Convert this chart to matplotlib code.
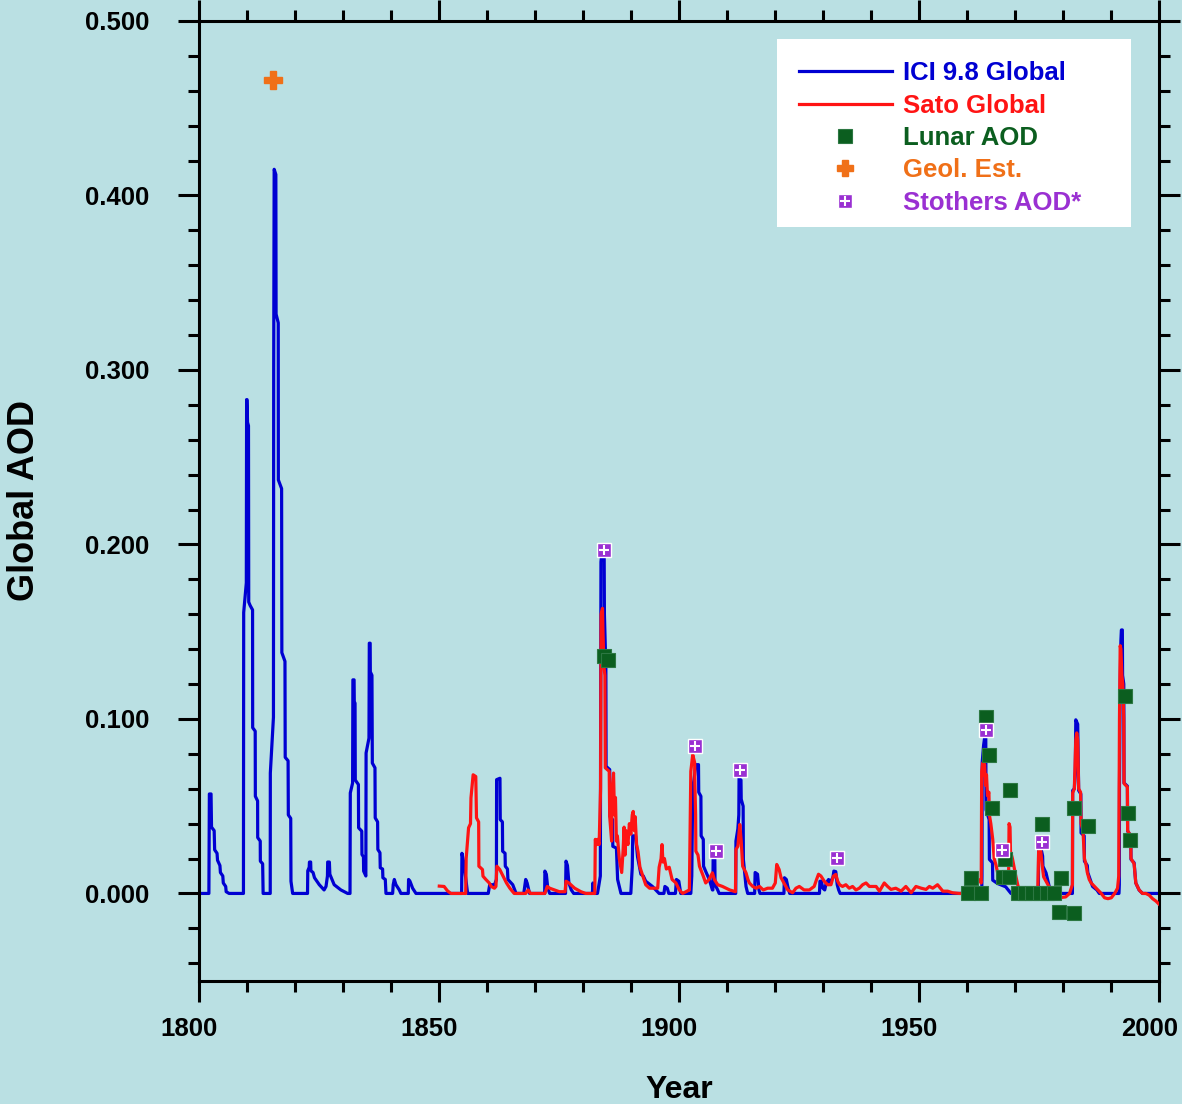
import matplotlib
matplotlib.use('Agg')
import matplotlib.pyplot as plt
from matplotlib.lines import Line2D
from matplotlib.patches import Rectangle
from matplotlib.ticker import MultipleLocator, FormatStrFormatter
from matplotlib.transforms import ScaledTranslation

plt.rcParams['font.family'] = ['Liberation Sans', 'DejaVu Sans']
plt.rcParams['font.weight'] = 'bold'

# ICI 9.8 global aerosol optical depth (year, AOD)
ici_year = [1800.0, 1802.0, 1802.1, 1802.45, 1802.55, 1803.1, 1803.2, 1803.7, 1803.8, 1804.3,
            1804.4, 1804.9, 1805.0, 1805.5, 1805.6, 1806.2,
            1809.2, 1809.25, 1809.8, 1809.86, 1809.95, 1810.05, 1810.25, 1810.3, 1810.6, 1811.1,
            1811.12, 1811.65, 1811.68, 1812.15, 1812.17, 1812.7, 1812.72, 1813.2, 1813.3,
            1814.78, 1814.8, 1815.45, 1815.5, 1815.6, 1815.95, 1816.0, 1816.45, 1816.47, 1817.15,
            1817.2, 1817.85, 1817.9, 1818.5, 1818.55, 1819.05, 1819.1, 1819.45,
            1822.55, 1822.6, 1822.9, 1822.95, 1823.2, 1823.25, 1823.7, 1824.0, 1825.0, 1826.0,
            1826.4, 1826.7, 1826.75, 1827.1, 1827.2, 1828.1, 1829.5, 1830.9,
            1831.4, 1831.46, 1831.94, 1832.0, 1832.25, 1832.29, 1832.45, 1832.5, 1833.15, 1833.19,
            1833.85, 1833.89, 1834.2, 1834.24, 1834.7, 1834.75, 1835.35, 1835.42, 1835.6, 1835.63,
            1835.97, 1836.05, 1836.6, 1836.65, 1837.15, 1837.2, 1837.64, 1837.7, 1838.19, 1838.25,
            1838.75, 1838.89, 1840.28, 1840.4, 1840.63, 1840.97, 1841.67, 1842.0,
            1843.54, 1843.6, 1843.89, 1844.44, 1845.14,
            1854.65, 1854.72, 1855.1, 1855.9,
            1860.2, 1860.5, 1861.5, 1861.9, 1861.94, 1862.64, 1862.7, 1863.15, 1863.2, 1863.7,
            1863.75, 1864.2, 1864.3, 1865.3, 1866.0,
            1867.6, 1868.0, 1868.3, 1868.8, 1871.95, 1872.0, 1872.3, 1872.6, 1873.0,
            1876.3, 1876.4, 1876.7, 1877.0, 1877.5, 1878.0, 1881.9, 1882.0, 1882.2,
            1882.95, 1883.2, 1883.55, 1883.68, 1883.75, 1884.35, 1884.4, 1884.7, 1884.75, 1885.5,
            1885.55, 1886.1, 1886.15, 1886.9, 1887.15, 1887.85,
            1889.9, 1890.2, 1890.3, 1890.9, 1891.3, 1892.0, 1892.5, 1893.0, 1894.4, 1895.8,
            1896.8, 1897.0, 1897.5, 1897.8, 1899.2, 1899.4, 1899.9, 1900.3,
            1902.4, 1902.6, 1902.8, 1903.2, 1903.45, 1904.0, 1904.05, 1904.5, 1904.55, 1905.0,
            1905.05, 1905.6, 1906.25, 1906.9, 1907.0, 1907.05, 1907.4, 1907.45, 1908.0, 1908.3,
            1911.75, 1911.8, 1912.2, 1912.4, 1912.45, 1912.85, 1912.9, 1913.3, 1913.35, 1913.9,
            1914.25, 1915.7, 1915.8, 1916.3, 1916.6, 1916.8, 1921.8, 1921.9, 1922.3, 1922.6, 1923.0,
            1929.2, 1929.3, 1929.6, 1929.9, 1930.3, 1930.6, 1931.1, 1931.3, 1932.0, 1932.2,
            1932.6, 1932.9, 1933.2, 1933.5,
            1963.0, 1963.06, 1963.1, 1963.4, 1963.6, 1963.85, 1963.9, 1964.55, 1964.6, 1965.25,
            1965.3, 1966.3, 1968.0, 1969.1,
            1974.8, 1974.86, 1975.4, 1975.69, 1975.75, 1976.4, 1977.08, 1977.78,
            1981.9, 1981.95, 1982.3, 1982.5, 1982.6, 1983.0, 1983.2, 1983.65, 1983.7, 1984.35,
            1984.4, 1985.0, 1985.1, 1986.1, 1987.0, 1987.5,
            1991.6, 1991.67, 1991.7, 1991.85, 1992.0, 1992.1, 1992.3, 1992.35, 1992.6, 1992.65,
            1993.35, 1993.4, 1994.05, 1994.1, 1994.75, 1995.1, 1995.8, 1996.5, 2000.0]
ici_aod = [0, 0, 0.057, 0.057, 0.038, 0.036, 0.025, 0.023, 0.019, 0.016,
           0.012, 0.010, 0.006, 0.004, 0.001, 0,
           0, 0.161, 0.178, 0.283, 0.283, 0.270, 0.268, 0.167, 0.165, 0.1625,
           0.095, 0.093, 0.0557, 0.053, 0.032, 0.030, 0.0185, 0.017, 0,
           0, 0.069, 0.101, 0.300, 0.415, 0.412, 0.332, 0.327, 0.237, 0.232,
           0.138, 0.133, 0.078, 0.076, 0.045, 0.043, 0.007, 0,
           0, 0.013, 0.015, 0.018, 0.018, 0.013, 0.012, 0.009, 0.005, 0.002,
           0.004, 0.010, 0.018, 0.018, 0.011, 0.005, 0.002, 0,
           0, 0.0576, 0.0633, 0.1224, 0.1224, 0.110, 0.109, 0.065, 0.0624, 0.0376,
           0.0357, 0.0223, 0.021, 0.0128, 0.010, 0.0805, 0.089, 0.1434, 0.1434, 0.127,
           0.125, 0.0747, 0.072, 0.0433, 0.041, 0.0252, 0.0233, 0.0147, 0.014, 0.009,
           0.008, 0, 0, 0.005, 0.008, 0.005, 0.002, 0,
           0, 0.008, 0.007, 0.003, 0,
           0, 0.023, 0.0177, 0,
           0, 0.005, 0.005, 0.008, 0.0652, 0.066, 0.0423, 0.041, 0.0242, 0.023,
           0.0156, 0.014, 0.008, 0.005, 0,
           0, 0.008, 0.006, 0, 0, 0.0128, 0.011, 0.003, 0,
           0, 0.0185, 0.016, 0.006, 0.002, 0, 0, 0.006, 0,
           0, 0.004, 0.010, 0.190, 0.192, 0.192, 0.160, 0.130, 0.0728, 0.071,
           0.0442, 0.0423, 0.027, 0.026, 0.008, 0,
           0, 0.015, 0.033, 0.033, 0.021, 0.011, 0.010, 0.007, 0.004, 0,
           0, 0.004, 0.003, 0, 0, 0.008, 0.007, 0,
           0, 0.010, 0.060, 0.068, 0.0738, 0.0738, 0.058, 0.0557, 0.033, 0.031,
           0.0156, 0.012, 0.008, 0.002, 0.002, 0.020, 0.020, 0.005, 0.002, 0,
           0, 0.030, 0.037, 0.045, 0.066, 0.065, 0.054, 0.050, 0.0195, 0.004,
           0, 0, 0.012, 0.011, 0.002, 0, 0, 0.009, 0.008, 0.004, 0,
           0, 0.007, 0.007, 0.003, 0.002, 0.006, 0.008, 0.006, 0.009, 0.0128,
           0.0125, 0.005, 0.002, 0,
           0, 0.010, 0.075, 0.085, 0.089, 0.089, 0.048, 0.0423, 0.0195, 0.0176,
           0.0076, 0.0057, 0.0038, 0,
           0, 0.0252, 0.0252, 0.0214, 0.0156, 0.0118, 0.0038, 0,
           0, 0.059, 0.060, 0.070, 0.0995, 0.097, 0.059, 0.057, 0.0347, 0.033,
           0.0185, 0.016, 0.012, 0.004, 0.002, 0,
           0, 0.005, 0.060, 0.120, 0.145, 0.151, 0.151, 0.125, 0.120, 0.0633,
           0.0615, 0.0357, 0.033, 0.0195, 0.0176, 0.006, 0.0019, 0, 0]

# Sato global AOD (year, AOD)
sato_year = [1850.0, 1851.0, 1851.7, 1852.4, 1855.5, 1855.6, 1856.1, 1856.5, 1856.6, 1857.05,
             1857.6, 1857.75, 1858.2, 1858.25, 1859.0, 1859.1, 1859.7, 1860.4, 1860.8, 1861.5,
             1861.8, 1862.0, 1862.6, 1863.3, 1864.0, 1864.7, 1865.6, 1868.0, 1868.5, 1869.0,
             1872.0, 1872.5, 1873.0, 1875.0, 1876.2, 1876.4, 1877.0, 1878.2, 1879.5, 1880.5,
             1882.4, 1882.5, 1882.8, 1883.0, 1883.3, 1883.6, 1883.7, 1884.0, 1884.1, 1884.3,
             1884.5, 1884.58, 1885.4, 1885.5, 1885.9, 1886.0, 1886.3, 1886.5, 1886.7, 1886.9,
             1887.1, 1887.5, 1888.0, 1888.3, 1888.5, 1888.7, 1888.9, 1889.3, 1889.6, 1889.9,
             1890.2, 1890.4, 1890.6, 1890.8, 1891.1, 1891.4, 1891.8, 1892.4, 1893.0, 1893.8,
             1895.5, 1895.8, 1896.2, 1896.4, 1896.6, 1896.9, 1897.3, 1897.9, 1898.5, 1899.3,
             1900.0, 1900.7, 1902.1, 1902.4, 1902.8, 1903.2, 1903.25, 1903.4, 1903.45, 1903.9,
             1904.2, 1905.0, 1905.5, 1906.2, 1906.9, 1907.3, 1908.0, 1909.0, 1910.5, 1911.7,
             1911.8, 1912.2, 1912.6, 1912.9, 1913.2, 1913.9, 1914.3, 1914.6, 1915.3, 1916.0,
             1916.7, 1917.5, 1918.4, 1919.4, 1920.0, 1920.3, 1920.8, 1921.2, 1921.6, 1922.6,
             1923.6, 1924.3, 1925.0, 1926.0, 1927.1, 1928.1, 1928.6, 1929.0, 1929.5, 1930.2,
             1930.9, 1931.6, 1932.1, 1932.6, 1933.0, 1933.4, 1934.0, 1934.7, 1935.4, 1936.1,
             1936.8, 1937.5, 1938.2, 1938.9, 1939.6, 1940.3, 1941.0, 1941.7, 1942.7, 1943.4,
             1944.1, 1945.1, 1946.2, 1947.2, 1948.3, 1949.3, 1950.4, 1951.4, 1952.1, 1952.8,
             1953.8, 1954.9, 1955.9, 1956.9, 1958.3, 1961.5, 1961.9, 1962.3, 1962.9, 1963.0,
             1963.2, 1963.4, 1963.6, 1963.8, 1964.0, 1964.2, 1964.5, 1964.6, 1964.9, 1965.3,
             1965.6, 1966.0, 1966.3, 1967.0, 1968.0, 1968.6, 1968.7, 1968.9, 1969.0, 1969.4,
             1970.1, 1970.5, 1970.8, 1971.5, 1974.5, 1974.7, 1974.86, 1975.3, 1975.6, 1975.9,
             1976.3, 1977.0, 1977.8, 1979.0, 1980.5, 1981.3, 1981.9, 1981.95, 1982.3, 1982.6,
             1982.8, 1983.0, 1983.2, 1983.6, 1983.7, 1984.1, 1984.4, 1984.7, 1985.0, 1985.4,
             1985.8, 1986.5, 1987.2, 1987.9, 1988.6, 1989.3, 1990.0, 1990.7, 1991.3, 1991.55,
             1991.7, 1991.85, 1992.0, 1992.2, 1992.4, 1992.6, 1992.65, 1993.35, 1993.4, 1994.05,
             1994.1, 1994.75, 1995.1, 1995.8, 1996.5, 1997.2, 1997.9, 1998.6, 1999.3, 2000.0]
sato_aod = [0.0042, 0.004, 0.0015, 0, 0, 0.020, 0.0376, 0.040, 0.0547, 0.068,
            0.067, 0.0433, 0.041, 0.0156, 0.0137, 0.0099, 0.008, 0.006, 0.004, 0.003,
            0.004, 0.0156, 0.0137, 0.0099, 0.006, 0.003, 0, 0, 0.002, 0,
            0, 0.004, 0.003, 0.001, 0.001, 0.007, 0.006, 0.003, 0.001, 0,
            0, 0.031, 0.028, 0.031, 0.028, 0.060, 0.160, 0.1634, 0.150, 0.130,
            0.125, 0.072, 0.070, 0.044, 0.030, 0.060, 0.069, 0.045, 0.055, 0.030,
            0.033, 0.020, 0.012, 0.025, 0.038, 0.022, 0.036, 0.028, 0.040, 0.034,
            0.045, 0.047, 0.036, 0.044, 0.028, 0.024, 0.015, 0.010, 0.005, 0.003,
            0.003, 0.015, 0.020, 0.028, 0.018, 0.020, 0.014, 0.015, 0.008, 0.006,
            0.002, 0, 0.002, 0.070, 0.0795, 0.075, 0.063, 0.045, 0.0242, 0.022,
            0.0156, 0.0099, 0.006, 0.008, 0.0118, 0.008, 0.005, 0.004, 0.002, 0.001,
            0.0252, 0.027, 0.0395, 0.030, 0.0156, 0.0118, 0.008, 0.006, 0.004, 0.003,
            0.004, 0.002, 0.003, 0.003, 0.006, 0.0166, 0.0137, 0.009, 0.007, 0.002,
            0.0004, 0.003, 0.004, 0.002, 0.002, 0.004, 0.008, 0.011, 0.010, 0.007,
            0.005, 0.005, 0.0099, 0.0109, 0.007, 0.005, 0.004, 0.005, 0.003, 0.004,
            0.002, 0.003, 0.005, 0.006, 0.004, 0.004, 0.004, 0.0013, 0.006, 0.004,
            0.0023, 0.003, 0.0013, 0.004, 0.0004, 0.004, 0.003, 0.0023, 0.004, 0.003,
            0.005, 0.0013, 0.0013, 0.0004, 0, 0, 0.005, 0.008, 0.006, 0.070,
            0.0748, 0.068, 0.074, 0.062, 0.068, 0.056, 0.058, 0.045, 0.040, 0.031,
            0.020, 0.016, 0.012, 0.008, 0.007, 0.008, 0.040, 0.038, 0.024, 0.020,
            0.010, 0.005, 0.002, 0, 0, 0.004, 0.0242, 0.0242, 0.016, 0.0095,
            0.0075, 0.004, 0, -0.0025, -0.002, 0, 0.005, 0.0576, 0.060, 0.088,
            0.092, 0.088, 0.060, 0.058, 0.040, 0.036, 0.020, 0.017, 0.012, 0.008,
            0.006, 0.004, 0.002, 0, -0.0025, -0.003, -0.0025, 0, 0.003, 0.010,
            0.100, 0.142, 0.140, 0.125, 0.120, 0.100, 0.063, 0.061, 0.036, 0.033,
            0.020, 0.017, 0.006, 0.002, 0, 0, -0.001, -0.003, -0.0044, -0.0063]

# Lunar eclipse derived AOD
lunar_year = [1884.4, 1885.07, 1960.07, 1960.76, 1962.85, 1963.89, 1964.44, 1965.07, 1967.5,
              1968.6, 1967.9, 1968.96, 1970.5, 1972.0, 1973.5, 1975.2, 1976.6, 1978.0,
              1975.56, 1979.0, 1979.5, 1982.29, 1982.29, 1985.07, 1992.85, 1993.4, 1993.96]
lunar_aod = [0.136, 0.134, 0.0, 0.009, 0.0, 0.101, 0.0795, 0.049, 0.0095,
             0.0095, 0.0195, 0.0595, 0.0, 0.0, 0.0, 0.0, 0.0, 0.0,
             0.040, -0.0105, 0.009, -0.011, 0.049, 0.0385, 0.1133, 0.046, 0.0305]

# Geological estimate (Tambora)
geol_year = [1815.45]
geol_aod = [0.466]

# Stothers AOD*
stothers_year = [1884.38, 1903.2, 1907.64, 1912.7, 1932.8, 1963.89, 1967.15, 1975.48]
stothers_aod = [0.197, 0.0843, 0.0245, 0.0706, 0.0202, 0.0934, 0.0248, 0.0294]

bg = '#bae0e3'
c_ici = '#0000d2'
c_sato = '#ff1414'
c_lunar = '#0b5e1f'
c_geol = '#f07018'
c_stoth = '#9a30d2'

fig = plt.figure(figsize=(11.82, 11.04), dpi=100)
fig.patch.set_facecolor(bg)
ax = fig.add_axes([0.1686, 0.1117, 0.8122, 0.8693])
ax.set_facecolor(bg)

ax.plot(ici_year, ici_aod, color=c_ici, lw=2.3, zorder=2)
ax.plot(sato_year, sato_aod, color=c_sato, lw=2.3, zorder=3)
ax.plot(lunar_year, lunar_aod, ls='none', marker='s', ms=10.5,
        mfc=c_lunar, mec='#2c7742', mew=0.8, zorder=4)
ax.plot(geol_year, geol_aod, ls='none', marker='P', ms=12.5,
        mfc=c_geol, mec=c_geol, zorder=5)
ax.plot(stothers_year, stothers_aod, ls='none', marker='s', ms=10,
        mfc=c_stoth, mec='white', mew=1.0, zorder=5)
ax.plot(stothers_year, stothers_aod, ls='none', marker='+', ms=7.5,
        mec='white', mew=1.5, zorder=6)

ax.set_xlim(1800, 2000)
ax.set_ylim(-0.05, 0.5)
ax.xaxis.set_major_locator(MultipleLocator(50))
ax.xaxis.set_minor_locator(MultipleLocator(10))
ax.yaxis.set_major_locator(MultipleLocator(0.1))
ax.yaxis.set_minor_locator(MultipleLocator(0.02))
ax.yaxis.set_major_formatter(FormatStrFormatter('%.3f'))

for s in ax.spines.values():
    s.set_linewidth(2.2)
ax.tick_params(which='both', direction='out', top=True, right=True, width=2.2,
               labelsize=18.5)
ax.tick_params(which='major', length=15)
ax.tick_params(which='minor', length=8)
ax.tick_params(axis='y', which='major', pad=21)
ax.tick_params(axis='x', which='major', pad=11)

# year labels sit a little left of their ticks
shift = ScaledTranslation(-10 / 100, 0, fig.dpi_scale_trans)
for lab in ax.get_xticklabels():
    lab.set_transform(lab.get_transform() + shift)

ax.set_xlabel('Year', fontsize=23, fontweight='bold', va='center')
ax.xaxis.set_label_coords(0.5, -0.114)
ax.set_ylabel('Global AOD', fontsize=26, fontweight='bold', va='center')
ax.yaxis.set_label_coords(-0.182, 0.5)

# white legend panel
ax.add_patch(Rectangle((0.602, 0.785), 0.369, 0.196, transform=ax.transAxes,
                       facecolor='white', edgecolor='none', zorder=7))

handles = [
    Line2D([], [], color=c_ici, lw=2.3),
    Line2D([], [], color=c_sato, lw=2.3),
    Line2D([], [], ls='none', marker='s', ms=10, mfc=c_lunar, mec='#2c7742', mew=0.8),
    Line2D([], [], ls='none', marker='P', ms=12, mfc=c_geol, mec=c_geol),
    (Line2D([], [], ls='none', marker='s', ms=10, mfc=c_stoth, mec='white', mew=1.0),
     Line2D([], [], ls='none', marker='+', ms=7.5, mec='white', mew=1.5)),
]
labels = ['ICI 9.8 Global', 'Sato Global', 'Lunar AOD', 'Geol. Est.', 'Stothers AOD*']
leg = ax.legend(handles, labels, loc='upper left', bbox_to_anchor=(0.602, 0.981),
                frameon=False, borderaxespad=0, borderpad=0.85,
                handlelength=3.6, handletextpad=0.45, labelspacing=0.33,
                prop={'weight': 'bold', 'size': 18.5})
leg.set_zorder(8)
for t, c in zip(leg.get_texts(), [c_ici, c_sato, c_lunar, c_geol, c_stoth]):
    t.set_color(c)

fig.savefig('out.png', dpi=100, facecolor=bg)
